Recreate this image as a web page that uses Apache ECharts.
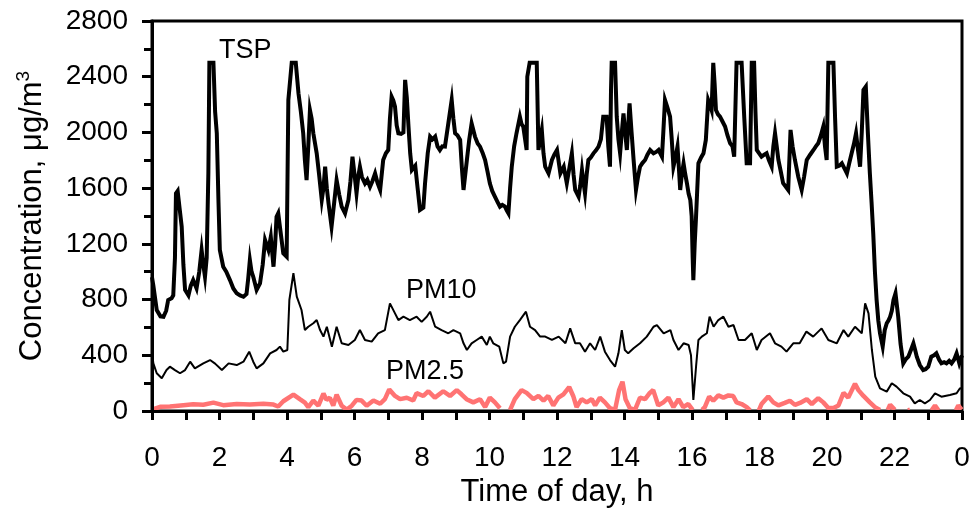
<!DOCTYPE html>
<html>
<head>
<meta charset="utf-8">
<script src="https://cdn.jsdelivr.net/npm/echarts@6/dist/echarts.min.js"></script>
<style>
html, body { margin: 0; padding: 0; background: #fff; }
#main { width: 972px; height: 510px; }
</style>
</head>
<body>
<div id="main"></div>
<script>
// hours of day vs concentration (ug/m3)
var tsp = [
    [0.0, 960], [0.04, 900], [0.14, 725], [0.25, 680], [0.34, 677], [0.42, 720], [0.48, 797], [0.58, 810], [0.63, 830],
    [0.68, 1100], [0.71, 1563], [0.76, 1580], [0.82, 1450], [0.88, 1323], [0.93, 1050], [0.98, 869], [1.08, 830],
    [1.15, 900], [1.22, 940], [1.32, 880], [1.40, 1000], [1.47, 1156], [1.52, 1050], [1.57, 964], [1.62, 1100],
    [1.67, 1706], [1.70, 2500], [1.82, 2500], [1.87, 2150], [1.92, 1994], [1.97, 1500], [2.01, 1156], [2.11, 1036],
    [2.2, 1000], [2.31, 940], [2.41, 880], [2.51, 845], [2.61, 830], [2.71, 820], [2.80, 840], [2.85, 950],
    [2.90, 1084], [2.95, 1000], [3.0, 964], [3.1, 869], [3.2, 916], [3.28, 1050], [3.35, 1228], [3.45, 1156],
    [3.52, 1250], [3.6, 1036], [3.65, 1200], [3.69, 1395], [3.74, 1420], [3.79, 1323], [3.89, 1132], [3.99, 1108],
    [4.04, 2233], [4.14, 2500], [4.26, 2500], [4.34, 2281], [4.41, 2150], [4.48, 1994], [4.53, 1800], [4.58, 1658],
    [4.63, 1900], [4.68, 2161], [4.73, 2100], [4.78, 1994], [4.88, 1850], [4.95, 1700], [5.03, 1515], [5.08, 1600],
    [5.13, 1754], [5.18, 1600], [5.23, 1491], [5.32, 1323], [5.40, 1500], [5.47, 1658], [5.55, 1550], [5.62, 1467],
    [5.72, 1419], [5.82, 1515], [5.88, 1650], [5.94, 1826], [6.0, 1700], [6.06, 1563], [6.11, 1680], [6.16, 1754],
    [6.22, 1680], [6.31, 1634], [6.38, 1660], [6.46, 1610], [6.53, 1650], [6.61, 1706], [6.68, 1640], [6.76, 1587],
    [6.85, 1802], [6.93, 1850], [7.0, 1874], [7.05, 2100], [7.10, 2257], [7.15, 2230], [7.2, 2185], [7.25, 2050],
    [7.30, 1994], [7.38, 1990], [7.45, 2000], [7.50, 2377], [7.55, 2250], [7.60, 2042], [7.65, 1850], [7.70, 1730],
    [7.80, 1760], [7.87, 1600], [7.94, 1443], [8.04, 1460], [8.09, 1635], [8.17, 1850], [8.24, 1970], [8.31, 1950],
    [8.39, 1970], [8.46, 1900], [8.53, 1874], [8.6, 1900], [8.68, 1898], [8.78, 2065], [8.88, 2233], [8.93, 2100],
    [8.98, 1994], [9.05, 1980], [9.13, 1946], [9.18, 1750], [9.23, 1587], [9.33, 1802], [9.40, 1950], [9.47, 2065],
    [9.57, 1970], [9.65, 1920], [9.72, 1898], [9.80, 1850], [9.87, 1802], [9.94, 1720], [10.01, 1635], [10.08, 1580],
    [10.16, 1539], [10.24, 1500], [10.31, 1467], [10.38, 1480], [10.46, 1467], [10.51, 1440], [10.56, 1419],
    [10.61, 1600], [10.66, 1754], [10.73, 1900], [10.80, 1994], [10.90, 2113], [10.95, 2060], [11.0, 2042],
    [11.05, 2050], [11.10, 1874], [11.12, 2400], [11.19, 2500], [11.40, 2500], [11.45, 1874], [11.5, 1950],
    [11.55, 2018], [11.60, 1850], [11.65, 1754], [11.75, 1706], [11.85, 1802], [11.92, 1840], [12.0, 1874],
    [12.1, 1706], [12.2, 1754], [12.29, 1635], [12.37, 1750], [12.44, 1850], [12.49, 1700], [12.54, 1587],
    [12.64, 1539], [12.69, 1620], [12.74, 1730], [12.78, 1650], [12.83, 1563], [12.88, 1700], [12.93, 1802],
    [13.0, 1820], [13.08, 1850], [13.15, 1870], [13.23, 1898], [13.30, 1950], [13.37, 2113], [13.47, 2113],
    [13.52, 1900], [13.57, 1754], [13.60, 2300], [13.62, 2500], [13.72, 2500], [13.77, 2113], [13.82, 1950],
    [13.87, 1850], [13.92, 2000], [13.97, 2137], [14.02, 2000], [14.07, 1874], [14.11, 2050], [14.15, 2209],
    [14.21, 2000], [14.27, 1802], [14.34, 1587], [14.40, 1680], [14.46, 1754], [14.53, 1780], [14.61, 1802],
    [14.68, 1840], [14.76, 1874], [14.86, 1850], [14.94, 1860], [15.01, 1874], [15.11, 1826], [15.15, 2000],
    [15.20, 2233], [15.27, 2180], [15.35, 2113], [15.40, 1950], [15.45, 1754], [15.51, 1820], [15.57, 1898],
    [15.61, 1750], [15.65, 1587], [15.70, 1700], [15.75, 1778], [15.80, 1700], [15.85, 1635], [15.90, 1560],
    [15.95, 1515], [15.99, 1400], [16.02, 1100], [16.04, 940], [16.08, 1200], [16.12, 1395], [16.19, 1778],
    [16.27, 1820], [16.34, 1850], [16.41, 1946], [16.48, 2233], [16.53, 2200], [16.58, 2161], [16.63, 2500],
    [16.67, 2350], [16.71, 2161], [16.77, 2130], [16.83, 2113], [16.9, 2080], [16.98, 2042], [17.05, 1980],
    [17.13, 1922], [17.2, 1900], [17.25, 1826], [17.32, 2500], [17.47, 2500], [17.55, 2100], [17.62, 1778],
    [17.72, 1778], [17.77, 2500], [17.84, 2500], [17.88, 2150], [17.92, 1874], [17.99, 1850], [18.06, 1826],
    [18.14, 1840], [18.21, 1850], [18.28, 1800], [18.36, 1754], [18.41, 1900], [18.46, 1994], [18.51, 1900],
    [18.56, 1802], [18.63, 1720], [18.70, 1635], [18.78, 1610], [18.85, 1587], [18.92, 2018], [18.98, 1900],
    [19.05, 1802], [19.15, 1680], [19.25, 1587], [19.32, 1680], [19.40, 1802], [19.5, 1840], [19.60, 1874],
    [19.67, 1900], [19.74, 1922], [19.82, 1980], [19.89, 2042], [19.94, 1900], [19.99, 1802], [20.04, 2500],
    [20.19, 2500], [20.24, 2100], [20.29, 1754], [20.36, 1760], [20.44, 1778], [20.52, 1740], [20.59, 1706],
    [20.66, 1780], [20.73, 1850], [20.80, 1920], [20.86, 1994], [20.92, 1870], [20.98, 1754], [21.03, 2000],
    [21.08, 2305], [21.15, 2329], [21.21, 2000], [21.27, 1706], [21.32, 1500], [21.37, 1276], [21.42, 1000],
    [21.47, 797], [21.52, 650], [21.57, 558], [21.65, 462], [21.71, 580], [21.77, 630], [21.82, 650], [21.87, 677],
    [21.92, 720], [21.97, 797], [22.03, 845], [22.07, 760], [22.11, 677], [22.18, 480], [22.26, 342], [22.33, 370],
    [22.41, 390], [22.49, 440], [22.56, 486], [22.61, 440], [22.66, 390], [22.75, 330], [22.85, 294], [22.92, 300],
    [23.0, 318], [23.09, 390], [23.17, 400], [23.24, 414], [23.32, 370], [23.39, 342], [23.47, 350], [23.54, 342],
    [23.62, 360], [23.69, 342], [23.77, 370], [23.84, 414], [23.92, 342], [24.0, 400]
];

var pm10 = [
    [0, 420], [0.04, 342], [0.14, 271], [0.29, 235], [0.43, 294], [0.53, 318], [0.68, 294], [0.83, 271], [0.98, 294],
    [1.13, 354], [1.27, 306], [1.52, 342], [1.72, 366], [1.87, 340], [2.07, 294], [2.27, 342], [2.51, 330],
    [2.71, 354], [2.88, 426], [3.0, 354], [3.1, 306], [3.3, 342], [3.5, 414], [3.69, 438], [3.79, 462], [3.89, 426],
    [4.01, 438], [4.07, 797], [4.19, 989], [4.29, 821], [4.43, 725], [4.53, 581], [4.63, 605], [4.78, 630],
    [4.88, 653], [4.98, 581], [5.08, 534], [5.18, 605], [5.33, 462], [5.47, 605], [5.62, 486], [5.82, 474],
    [6.01, 510], [6.16, 581], [6.31, 510], [6.51, 498], [6.7, 558], [6.9, 581], [7.05, 773], [7.2, 701], [7.3, 653],
    [7.45, 677], [7.64, 653], [7.84, 677], [7.99, 640], [8.14, 677], [8.24, 713], [8.39, 605], [8.58, 581],
    [8.78, 558], [8.93, 581], [9.13, 558], [9.23, 486], [9.33, 438], [9.47, 486], [9.62, 510], [9.77, 534],
    [9.92, 474], [10.01, 534], [10.11, 486], [10.29, 462], [10.41, 342], [10.49, 354], [10.61, 534], [10.75, 605],
    [10.9, 653], [11.08, 713], [11.2, 605], [11.35, 581], [11.5, 534], [11.65, 534], [11.85, 510], [12.05, 534],
    [12.25, 486], [12.39, 593], [12.54, 486], [12.68, 486], [12.83, 426], [12.98, 486], [13.13, 438], [13.28, 534],
    [13.42, 426], [13.57, 366], [13.72, 318], [13.82, 414], [13.92, 581], [14.01, 438], [14.11, 414], [14.27, 450],
    [14.46, 486], [14.66, 534], [14.86, 605], [14.96, 617], [15.16, 558], [15.36, 581], [15.45, 510], [15.6, 438],
    [15.75, 486], [15.9, 474], [15.97, 400], [16.04, 79], [16.12, 318], [16.19, 510], [16.29, 534], [16.44, 558],
    [16.52, 677], [16.64, 605], [16.78, 653], [16.93, 677], [17.08, 605], [17.23, 617], [17.38, 510], [17.57, 510],
    [17.77, 558], [17.92, 438], [18.06, 510], [18.31, 558], [18.46, 486], [18.65, 462], [18.8, 426], [19.0, 486],
    [19.19, 486], [19.39, 570], [19.59, 534], [19.84, 593], [20.04, 510], [20.29, 486], [20.49, 581], [20.63, 534],
    [20.83, 605], [21.03, 558], [21.13, 773], [21.23, 701], [21.33, 438], [21.43, 246], [21.57, 163], [21.77, 139],
    [21.92, 199], [22.06, 175], [22.26, 127], [22.46, 103], [22.6, 55], [22.75, 79], [22.9, 55], [23.05, 79],
    [23.2, 127], [23.39, 103], [23.64, 115], [23.84, 127], [23.94, 163], [24.0, 160]
];

// null = no reading (gap in the trace)
var pm25 = [
    [0.0, 10], [0.04, 20], [0.24, 30], [0.53, 32], [0.93, 42], [1.22, 48], [1.52, 45], [1.82, 60], [2.11, 42],
    [2.51, 50], [2.9, 46], [3.3, 52], [3.6, 46], [3.74, 32], [3.89, 70], [4.19, 118], [4.38, 85], [4.53, 60],
    [4.63, 28], [4.78, 75], [4.93, 38], [5.08, 125], [5.17, 80], [5.27, 95], [5.37, 38], [5.47, 118], [5.62, 38],
    [5.77, 10], [5.92, 38], [6.06, 80], [6.21, 75], [6.36, 38], [6.56, 75], [6.76, 52], [6.9, 85], [7.03, 155],
    [7.2, 108], [7.35, 85], [7.55, 95], [7.74, 75], [7.84, 128], [8.04, 108], [8.19, 142], [8.38, 96], [8.63, 142],
    [8.83, 108], [9.03, 150], [9.17, 120], [9.32, 85], [9.52, 62], [9.72, 85], [9.87, 28], [10.01, 96], [10.16, 62],
    [10.31, 20], [10.46, null], [10.61, 8], [10.75, 85], [10.95, 150], [11.1, 130], [11.3, 85], [11.45, 108],
    [11.6, 74], [11.74, 108], [11.89, 40], [12.04, 96], [12.19, 120], [12.36, 172], [12.48, 108], [12.58, 28],
    [12.73, 85], [12.88, 62], [13.03, 85], [13.13, 40], [13.27, 96], [13.42, 62], [13.57, 20], [13.72, 8],
    [13.84, 150], [13.94, 210], [14.03, 85], [14.16, 20], [14.31, 8], [14.46, 96], [14.61, 85], [14.75, 130],
    [14.85, 150], [15.0, 40], [15.15, 62], [15.3, 96], [15.45, 28], [15.6, 85], [15.74, 28], [15.89, 50],
    [16.02, 8], [16.1, null], [16.3, 8], [16.38, 28], [16.51, 104], [16.63, 74], [16.78, 112], [16.93, 96],
    [17.08, 112], [17.22, 108], [17.32, 62], [17.47, 50], [17.62, 28], [17.72, 5], [17.85, null], [17.98, 5],
    [18.06, 50], [18.26, 104], [18.41, 62], [18.56, 40], [18.75, 58], [18.9, 74], [19.05, 44], [19.2, 58],
    [19.4, 85], [19.55, 50], [19.74, 92], [19.89, 62], [20.04, 22], [20.19, 22], [20.34, 40], [20.49, 130],
    [20.63, 96], [20.83, 195], [20.93, 150], [21.08, 108], [21.27, 62], [21.42, 28], [21.57, 8], [21.7, null],
    [21.8, 8], [21.87, 45], [22.01, 8], [22.1, null], [22.4, 5], [22.46, 10], [22.52, null], [23.1, 5], [23.2, 40],
    [23.3, 5], [23.35, null], [23.82, 5], [23.89, 40], [23.99, 10]
];

var dom = document.getElementById("main");
var myChart = echarts.init(dom);

var font = 'Liberation Sans, Arial, sans-serif';

option = {
    backgroundColor: '#fff',
    animation: false,
    textStyle: { fontFamily: font, color: '#000' },
    grid: {
        left: 152,
        right: 10,
        top: 21,
        bottom: 99,
        containLabel: false,
        outerBoundsMode: 'none',
        show: true,
        borderColor: '#000',
        borderWidth: 3
    },
    xAxis: {
        type: 'value',
        min: 0,
        max: 24,
        interval: 2,
        z: 5,
        name: 'Time of day, h',
        nameLocation: 'middle',
        nameGap: 66,
        nameMoveOverlap: false,
        nameTextStyle: { fontSize: 31, color: '#000', fontFamily: font },
        axisLine: { onZero: false, lineStyle: { color: '#000', width: 3 } },
        axisTick: { show: true, inside: false, length: 9, lineStyle: { color: '#000', width: 3 } },
        minorTick: { show: true, splitNumber: 2, length: 9, lineStyle: { color: '#000', width: 3 } },
        axisLabel: {
            fontSize: 28,
            color: '#000',
            margin: 33,
            formatter: function (v) { return String(v % 24); }
        },
        splitLine: { show: false }
    },
    yAxis: {
        type: 'value',
        min: 0,
        max: 2800,
        interval: 400,
        z: 5,
        name: 'Concentration, μg/m{sup|3}',
        nameLocation: 'middle',
        nameGap: 102,
        nameMoveOverlap: false,
        nameTextStyle: {
            fontSize: 31,
            color: '#000',
            fontFamily: font,
            lineHeight: 36,
            rich: {
                sup: { fontSize: 19, verticalAlign: 'top', lineHeight: 20, fontFamily: font, color: '#000' }
            }
        },
        axisLine: { show: true, onZero: false, lineStyle: { color: '#000', width: 3 } },
        axisTick: { show: true, inside: false, length: 10, lineStyle: { color: '#000', width: 3 } },
        minorTick: { show: true, splitNumber: 2, length: 8, lineStyle: { color: '#000', width: 3 } },
        axisLabel: {
            fontSize: 28,
            color: '#000',
            margin: 24,
            formatter: function (v) { return String(v); }
        },
        splitLine: { show: false }
    },
    graphic: [
        { type: 'text', left: 219, top: 37, style: { text: 'TSP', fontSize: 27, fontFamily: font, fill: '#000' } },
        { type: 'text', left: 406, top: 277, style: { text: 'PM10', fontSize: 27, fontFamily: font, fill: '#000' } },
        { type: 'text', left: 386, top: 358, style: { text: 'PM2.5', fontSize: 27, fontFamily: font, fill: '#000' } }
    ],
    series: [
        {
            name: 'PM2.5',
            type: 'line',
            data: pm25,
            showSymbol: false,
            connectNulls: false,
            lineStyle: { color: '#ff7373', width: 4.5 },
            z: 2
        },
        {
            name: 'PM10',
            type: 'line',
            data: pm10,
            showSymbol: false,
            lineStyle: { color: '#000', width: 2 },
            z: 3
        },
        {
            name: 'TSP',
            type: 'line',
            data: tsp,
            showSymbol: false,
            lineStyle: { color: '#000', width: 4, join: 'miter' },
            z: 4
        }
    ]
};

myChart.setOption(option);
</script>
</body>
</html>
